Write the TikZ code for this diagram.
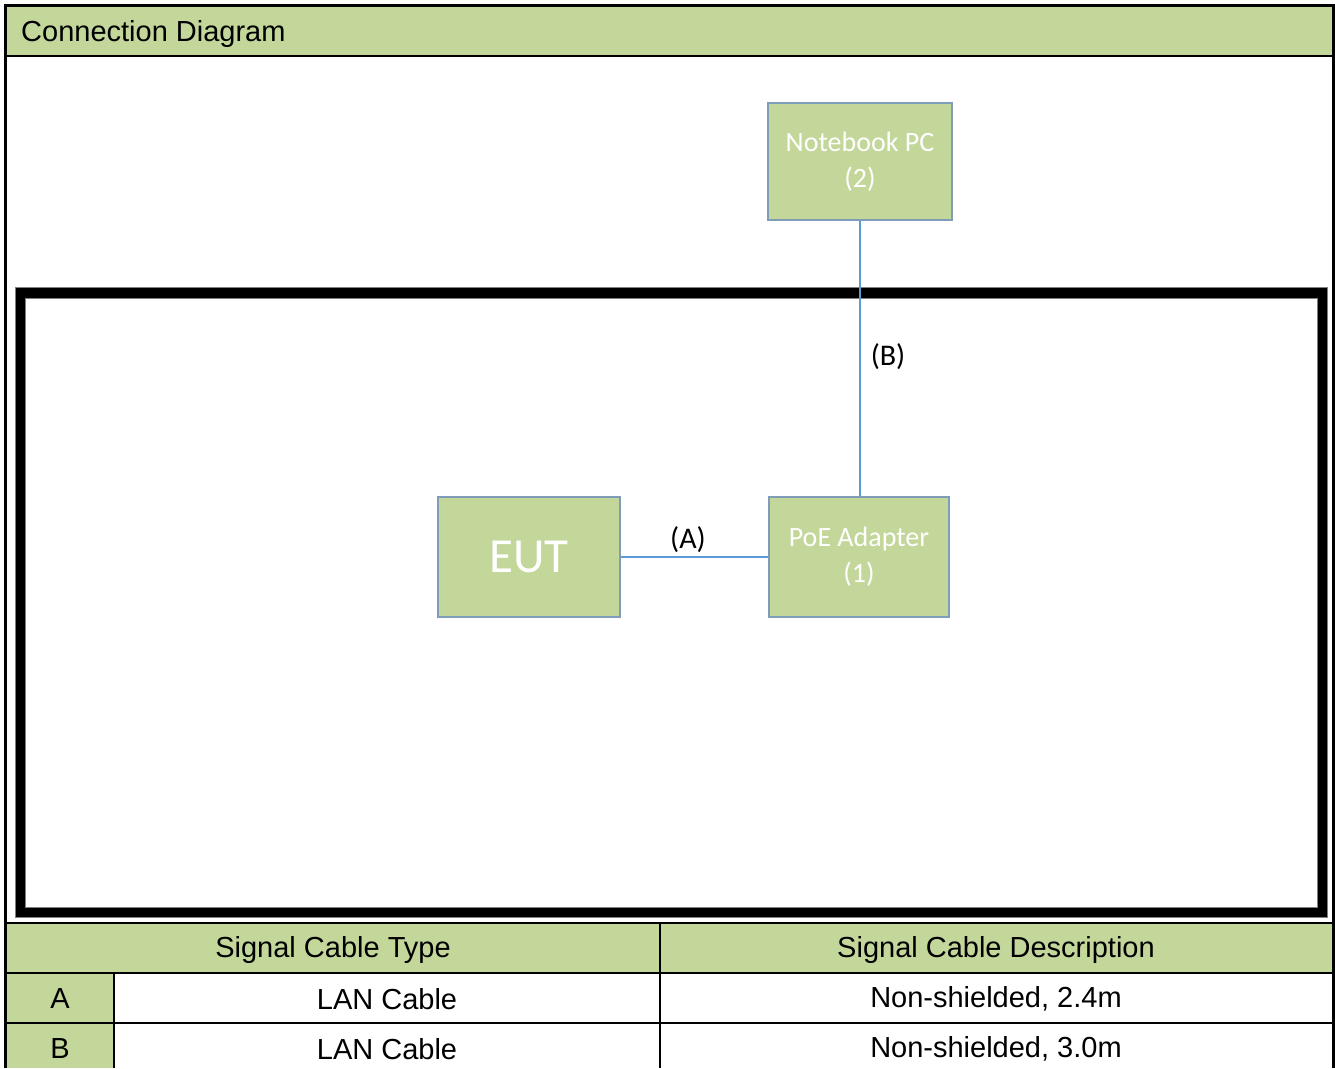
\documentclass[tikz,border=0pt]{standalone}
\usepackage{fontspec}
\setmainfont{Liberation Sans}
\newfontfamily\calfont{Carlito}
\definecolor{hdrgreen}{HTML}{C4D79B}
\definecolor{boxedge}{HTML}{7F9DB9}
\definecolor{wire}{HTML}{5B9BD5}
\tikzset{
  devbox/.style={draw=boxedge, line width=1.5pt, fill=hdrgreen, text=white, align=center, inner sep=0pt,
    font=\calfont\fontsize{28}{36}\selectfont},
  wirelabel/.style={font=\calfont\fontsize{30}{34}\selectfont, inner sep=0pt},
  tabtext/.style={font=\fontsize{29}{33}\selectfont, inner sep=0pt},
  conn/.style={draw=wire, line width=1.3pt},
  rule/.style={line width=2pt, black}
}
\begin{document}
\begin{tikzpicture}[x=1pt,y=-1pt]
\useasboundingbox (0,0) rectangle (1335,1068);
\fill[white] (0,0) rectangle (1335,1068);
% header band
\fill[hdrgreen] (5.5,5.5) rectangle (1333,56);
\node[tabtext, anchor=west] (title) at (21,34) {Connection Diagram};
% table fills
\fill[hdrgreen] (5.5,923) rectangle (1333,973);
\fill[hdrgreen] (5.5,973) rectangle (114,1068);
% outer frame
\draw[line width=3pt] (5.5,1068) -- (5.5,5.5) -- (1333,5.5) -- (1333,1068);
\draw[line width=2.5pt] (5.5,56) -- (1333,56);
% table rules
\draw[rule] (5.5,923) -- (1333,923);
\draw[rule] (5.5,973) -- (1333,973);
\draw[rule] (5.5,1023) -- (1333,1023);
\draw[rule] (660,923) -- (660,1068);
\draw[rule] (114,973) -- (114,1068);
% thick frame
\draw[line width=10.5pt] (20,292.5) rectangle (1322,912);
\draw[gray, line width=0.8pt] (15,287) rectangle (1327,917);
\draw[gray, line width=0.8pt] (25,298) rectangle (1317,907);
% devices
\node[devbox, minimum width=184pt, minimum height=117pt] (nb) at (860,161.5) {Notebook PC\\(2)};
\node[devbox, minimum width=182pt, minimum height=120pt, font=\calfont\fontsize{49}{52}\selectfont] (eut) at (529,557) {EUT};
\node[devbox, minimum width=180pt, minimum height=120pt] (poe) at (859,557) {PoE Adapter\\(1)};
% connectors
\draw[conn] (eut.east) -- (poe.west);
\draw[conn] (nb.south) -- (nb.south |- poe.north);
\node[wirelabel] (la) at (688,540) {(A)};
\node[wirelabel] (lb) at (888,357) {(B)};
% table text
\node[tabtext] (h1) at (333,950) {Signal Cable Type};
\node[tabtext] (h2) at (996,950) {Signal Cable Description};
\node[tabtext] (ra) at (60,999) {A};
\node[tabtext] (rat) at (387,999) {LAN Cable};
\node[tabtext] (rad) at (996,999) {Non-shielded, 2.4m};
\node[tabtext] (rb) at (60,1049) {B};
\node[tabtext] (rbt) at (387,1049) {LAN Cable};
\node[tabtext] (rbd) at (996,1049) {Non-shielded, 3.0m};
\end{tikzpicture}
\end{document}
